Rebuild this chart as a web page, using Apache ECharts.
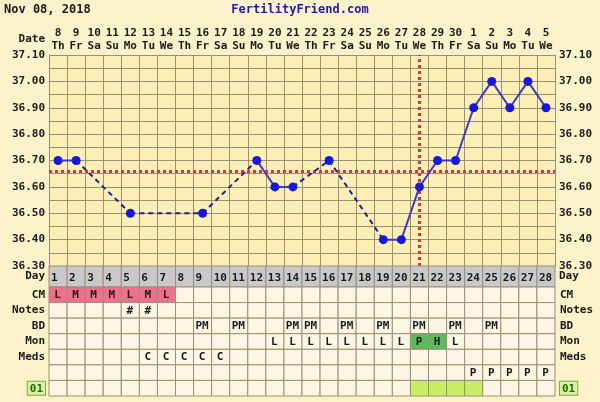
<!DOCTYPE html>
<html><head><meta charset="utf-8">
<script src="https://cdn.jsdelivr.net/npm/echarts@6/dist/echarts.min.js"></script>
<style>html,body{margin:0;padding:0;background:#fcf2c9;}#c{width:600px;height:402px;}</style>
</head><body><div id="c"></div>
<script>
// ---------- data ----------
const chartDate = 'Nov 08, 2018';
const siteName = 'FertilityFriend.com';
const cycleDays = ['1','2','3','4','5','6','7','8','9','10','11','12','13','14','15','16','17','18','19','20','21','22','23','24','25','26','27','28'];
const dates = ['8','9','10','11','12','13','14','15','16','17','18','19','20','21','22','23','24','25','26','27','28','29','30','1','2','3','4','5'];
const weekdays = ['Th','Fr','Sa','Su','Mo','Tu','We','Th','Fr','Sa','Su','Mo','Tu','We','Th','Fr','Sa','Su','Mo','Tu','We','Th','Fr','Sa','Su','Mo','Tu','We'];
const temps = [36.70,36.70,null,null,36.50,null,null,null,36.50,null,null,36.70,36.60,36.60,null,36.70,null,null,36.40,36.40,36.60,36.70,36.70,36.90,37.00,36.90,37.00,36.90];
const coverline = 36.66;
const ovulationDay = '21';
const tempMin = 36.30, tempMax = 37.10, tempStep = 0.05;
const rowLabels = ['CM','Notes','BD','Mon','Meds','','01'];
const cmRow    = ['L','M','M','M','L','M','L','','','','','','','','','','','','','','','','','','','','',''];
const notesRow = ['','','','','#','#','','','','','','','','','','','','','','','','','','','','','',''];
const bdRow    = ['','','','','','','','','PM','','PM','','','PM','PM','','PM','','PM','','PM','','PM','','PM','','',''];
const monRow   = ['','','','','','','','','','','','','L','L','L','L','L','L','L','L','P','H','L','','','','',''];
const medsRow  = ['','','','','','C','C','C','C','C','','','','','','','','','','','','','','','','','',''];
const extraRow = ['','','','','','','','','','','','','','','','','','','','','','','','P','P','P','P','P'];
const lastRow  = ['','','','','','','','','','','','','','','','','','','','','','','','','','','',''];
const cmHighlightDays = [1,2,3,4,5,6,7];
const monHighlightDays = [21,22];
const lastHighlightDays = [21,22,23,24];

// ---------- styles ----------
const FONT = '"DejaVu Sans Mono", monospace';
const gridColor = '#9c8f73';
const cellBg = '#fdf6e4';
const textColor = '#1a1a1a';

// ---------- derived ----------
const tableRows = [cmRow, notesRow, bdRow, monRow, medsRow, extraRow, lastRow];
const rowFill = (r, d) => {
  if (r === 0 && cmHighlightDays.includes(d)) return '#ef6f8c';
  if (r === 3 && monHighlightDays.includes(d)) return '#5cbc5c';
  if (r === 6 && lastHighlightDays.includes(d)) return '#c6ee62';
  return cellBg;
};
const dayCells = cycleDays.map((d, i) => ({x: i, y: 0, text: d, fill: '#c9c9c9', left: true}));
const tableCells = [];
tableRows.forEach((row, r) => row.forEach((t, i) => tableCells.push({x: i, y: r, text: t, fill: rowFill(r, i + 1), left: false})));

// dashed segments across missing days
const dashedSegs = [];
let prev = -1;
temps.forEach((v, i) => {
  if (v == null) return;
  if (prev >= 0 && i - prev > 1) dashedSegs.push([[prev, temps[prev]], [i, temps[i]]]);
  prev = i;
});

function cellSeries(cells, xi, yi) {
  return {
    type: 'custom', xAxisIndex: xi, yAxisIndex: yi, silent: true,
    data: cells.map(c => [c.x, c.y]),
    renderItem(params, api) {
      const c = cells[params.dataIndex];
      const p = api.coord([api.value(0), api.value(1)]);
      const s = api.size([1, 1]);
      const x0 = p[0] - s[0] / 2, y0 = p[1] - s[1] / 2;
      const ch = [{type: 'rect', shape: {x: x0, y: y0, width: s[0], height: s[1]},
        style: {fill: c.fill, stroke: gridColor, lineWidth: 1}}];
      if (c.text) ch.push({type: 'text', x: c.left ? x0 + 2 : p[0] - 0.5, y: p[1] + (c.left ? 1.5 : 0.5),
        style: {text: c.text, fill: textColor, font: 'bold 11px ' + FONT, align: c.left ? 'left' : 'center', verticalAlign: 'middle'}});
      return {type: 'group', children: ch};
    }
  };
}

const labelStyle = {color: textColor, fontFamily: FONT, fontWeight: 'bold', fontSize: 11};
const tempLabel = v => {
  const k = Math.round(v * 100);
  return k % 10 === 0 ? (k / 100).toFixed(2) : '';
};
const boxRich = {box: {backgroundColor: '#d8f1a4', borderColor: '#7ea94c', borderWidth: 1, padding: [2, 2, 0, 2], color: '#2c6a00', fontFamily: FONT, fontWeight: 'bold', fontSize: 11}};
const rowFormatter = (v, i) => i === rowLabels.length - 1 ? '{box|' + rowLabels[i] + '}' : rowLabels[i];

const chart = echarts.init(document.getElementById('c'), null, {renderer: 'canvas'});
chart.setOption({
  animation: false,
  backgroundColor: '#fcf2c9',
  graphic: [
    {type: 'text', x: 4, y: 10, style: {text: chartDate, fill: textColor, font: 'bold 12px ' + FONT, align: 'left', verticalAlign: 'middle'}},
    {type: 'text', x: 300, y: 10, style: {text: siteName, fill: '#1c1ca8', font: 'bold 12px ' + FONT, align: 'center', verticalAlign: 'middle'}},
    {type: 'text', x: 45, y: 39, style: {text: 'Date', fill: textColor, font: 'bold 11px ' + FONT, align: 'right', verticalAlign: 'middle'}}
  ],
  grid: [
    {left: 49, right: 45, top: 55, height: 211, backgroundColor: '#fbefb6', show: true, borderWidth: 0},
    {left: 49, right: 45, top: 266, height: 21},
    {left: 49, right: 45, top: 287, height: 109}
  ],
  xAxis: [
    {gridIndex: 0, type: 'category', data: cycleDays, position: 'bottom',
      axisLabel: {show: false}, axisTick: {show: false},
      axisLine: {lineStyle: {color: gridColor}},
      splitLine: {show: true, interval: 0, lineStyle: {color: gridColor, width: 1}}},
    {gridIndex: 0, type: 'category', data: cycleDays, position: 'top',
      axisLine: {show: false}, axisTick: {show: false},
      axisLabel: {interval: 0, margin: 2, ...labelStyle, lineHeight: 13,
        formatter: (v, i) => dates[i] + '\n' + weekdays[i]}},
    {gridIndex: 1, type: 'category', data: cycleDays, show: false},
    {gridIndex: 2, type: 'category', data: cycleDays, show: false}
  ],
  yAxis: [
    {gridIndex: 0, type: 'value', min: tempMin, max: tempMax, interval: tempStep, position: 'left',
      axisLine: {show: true, lineStyle: {color: gridColor}}, axisTick: {show: false},
      splitLine: {show: true, lineStyle: {color: gridColor, width: 1}},
      axisLabel: {margin: 4, ...labelStyle, formatter: tempLabel}},
    {gridIndex: 0, type: 'value', min: tempMin, max: tempMax, interval: tempStep, position: 'right',
      axisLine: {show: true, lineStyle: {color: gridColor}}, axisTick: {show: false},
      splitLine: {show: false},
      axisLabel: {margin: 4, ...labelStyle, formatter: tempLabel}},
    {gridIndex: 1, type: 'category', data: ['Day'], position: 'left', axisLine: {show: false}, axisTick: {show: false},
      axisLabel: {margin: 4, ...labelStyle, padding: [8, 0, 0, 0]}},
    {gridIndex: 1, type: 'category', data: ['Day'], position: 'right', axisLine: {show: false}, axisTick: {show: false},
      axisLabel: {margin: 4, ...labelStyle, padding: [8, 0, 0, 0]}},
    {gridIndex: 2, type: 'category', inverse: true, data: rowLabels.map((_, i) => 'r' + i), position: 'left',
      axisLine: {show: false}, axisTick: {show: false},
      axisLabel: {interval: 0, margin: 4, ...labelStyle, formatter: rowFormatter, rich: boxRich}},
    {gridIndex: 2, type: 'category', inverse: true, data: rowLabels.map((_, i) => 'r' + i), position: 'right',
      axisLine: {show: false}, axisTick: {show: false},
      axisLabel: {interval: 0, margin: 5, ...labelStyle, formatter: rowFormatter, rich: boxRich}}
  ],
  series: [
    ...dashedSegs.map(seg => ({type: 'line', xAxisIndex: 0, yAxisIndex: 0, data: seg, symbol: 'none', silent: true, z: 3,
      lineStyle: {color: '#1f1f8e', width: 2, type: [5, 4]}})),
    {type: 'line', xAxisIndex: 0, yAxisIndex: 0, data: temps, connectNulls: false, z: 4,
      symbol: 'circle', symbolSize: 9, itemStyle: {color: '#1717e4'},
      lineStyle: {color: '#3b3bcc', width: 2},
      markLine: {silent: true, symbol: 'none', label: {show: false}, z: 2,
        lineStyle: {color: '#d2373a', width: 3, type: [3, 3]},
        data: [{yAxis: coverline}, {xAxis: ovulationDay}]}},
    cellSeries(dayCells, 2, 2),
    cellSeries(tableCells, 3, 4)
  ]
});
</script></body></html>
